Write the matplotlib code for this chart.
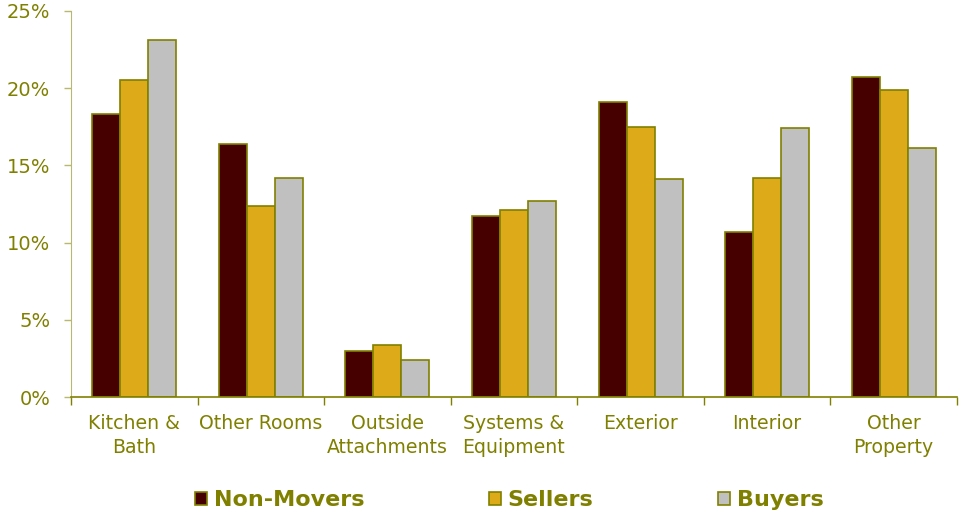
import numpy as np
import matplotlib.pyplot as plt
from matplotlib.ticker import PercentFormatter

categories = ["Kitchen &\nBath", "Other Rooms", "Outside\nAttachments",
              "Systems &\nEquipment", "Exterior", "Interior", "Other\nProperty"]
non_movers = [18.3, 16.4, 3.0, 11.7, 19.1, 10.7, 20.7]
sellers = [20.5, 12.4, 3.4, 12.1, 17.5, 14.2, 19.9]
buyers = [23.1, 14.2, 2.4, 12.7, 14.1, 17.4, 16.1]
series = ["Non-Movers", "Sellers", "Buyers"]

olive = "#808000"
colors = ["#470000", "#DDAA1A", "#C0C0C0"]

fig = plt.figure(figsize=(9.61, 5.14), dpi=100)
ax = fig.add_axes([0.0739, 0.2276, 0.9219, 0.751])

x = np.arange(len(categories))
w = 0.221
for i, (vals, name) in enumerate(zip([non_movers, sellers, buyers], series)):
    ax.bar(x + (i - 1) * w, vals, w, color=colors[i], edgecolor=olive,
           linewidth=1.2, label=name, zorder=2)

ax.set_xlim(-0.5, len(categories) - 0.5)
ax.set_ylim(0, 25)
ax.set_yticks(np.arange(0, 26, 5))
ax.yaxis.set_major_formatter(PercentFormatter(decimals=0))

ax.set_xticks(x)
ax.set_xticklabels(categories, color=olive, fontsize=13.6, linespacing=1.35)
ax.set_xticks(np.arange(-0.5, len(categories)), minor=True)
ax.tick_params(axis="x", which="major", length=0, pad=12)
ax.tick_params(axis="x", which="minor", length=6, color=olive, width=1)
ax.tick_params(axis="y", length=5, color="#B8B870", width=1,
               labelcolor=olive, labelsize=14, pad=10)

for s in ["top", "right"]:
    ax.spines[s].set_visible(False)
ax.spines["left"].set_color("#B8B870")
ax.spines["bottom"].set_color(olive)
ax.spines["bottom"].set_linewidth(1.2)

leg = fig.legend(loc="center", bbox_to_anchor=(0.530, 0.027), ncol=3,
                 frameon=False, columnspacing=5.6, handlelength=0.55,
                 handleheight=0.55, handletextpad=0.3,
                 prop={"size": 16, "weight": "bold"})
for t in leg.get_texts():
    t.set_color(olive)

fig.savefig("out.png", dpi=100)
